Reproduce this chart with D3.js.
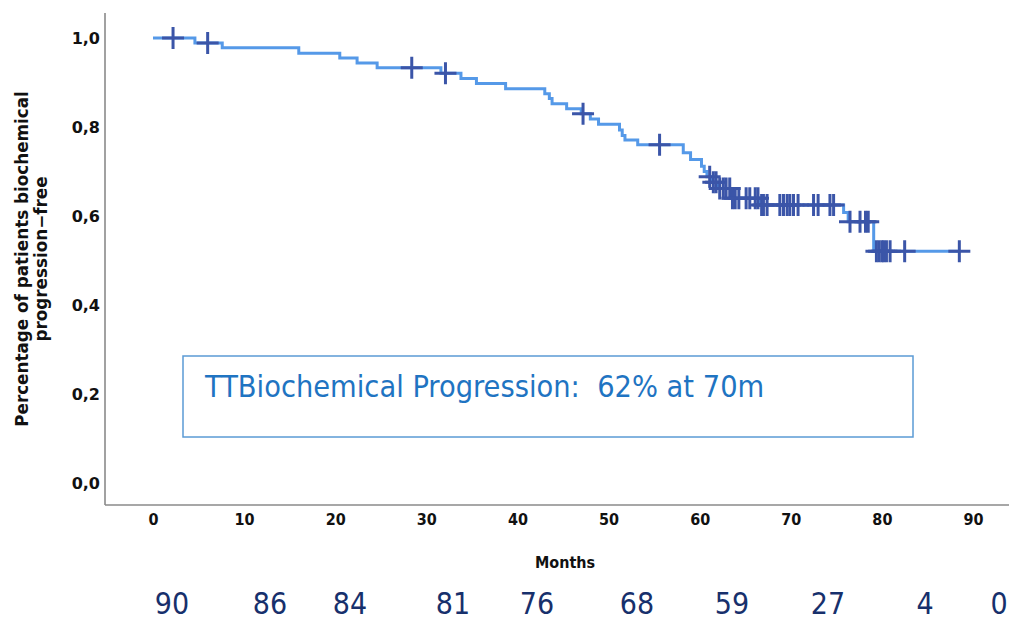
<!DOCTYPE html>
<html>
<head>
<meta charset="utf-8">
<script src="https://cdn.jsdelivr.net/npm/d3@7"></script>
<style>
  html, body { margin: 0; padding: 0; background: #fff; }
  svg { display: block; }
</style>
</head>
<body>
<svg id="chart" width="1009" height="622"></svg>
<script>
// Kaplan–Meier: time to biochemical progression

// x-axis ticks (months) and y-axis ticks (proportion)
const monthTicks = [0, 10, 20, 30, 40, 50, 60, 70, 80, 90];
const survTicks = [0, 0.2, 0.4, 0.6, 0.8, 1.0];

// Event times (months) and the survival estimate just after each event
const eventTimes = [4.6, 7.6, 16.0, 20.5, 22.4, 24.6, 31.6, 33.8, 35.5, 38.7,
  43.0, 43.5, 43.8, 45.4, 47.0, 48.0, 48.9, 51.2, 51.5, 51.8,
  53.2, 58.2, 59.0, 60.2, 60.5, 60.8, 61.3, 62.0, 63.6, 66.6,
  75.8, 76.3, 79.1];
const eventSurv = [0.989, 0.978, 0.966, 0.955, 0.944, 0.933, 0.921, 0.909, 0.898, 0.886,
  0.875, 0.864, 0.852, 0.841, 0.830, 0.818, 0.806, 0.793, 0.781, 0.771,
  0.760, 0.742, 0.727, 0.712, 0.700, 0.688, 0.676, 0.662, 0.640, 0.625,
  0.608, 0.587, 0.521];

// Censored observations (months)
const censorTimes = [2.2, 6.0, 28.4, 32.1, 47.2, 55.6, 61.1, 61.5, 61.8, 62.2,
  62.6, 62.9, 63.3, 63.6, 63.9, 64.3, 65.1, 65.5, 66.1, 66.4,
  66.8, 67.0, 67.4, 68.8, 69.2, 69.6, 69.9, 70.3, 70.8, 72.5,
  73.0, 74.3, 74.7, 76.5, 77.6, 78.2, 78.5, 79.4, 79.7, 80.0,
  80.2, 80.5, 80.9, 82.5, 88.5];

// Numbers at risk shown under the axis
const atRisk = [90, 86, 84, 81, 76, 68, 59, 27, 4, 0];

const annotation = "TTBiochemical Progression:  62% at 70m";

// ---- layout ----
const riskLabelX = [172, 270, 350, 453, 537, 637, 732, 828, 925, 999];
const svg = d3.select("#chart");

const x = d3.scaleLinear().domain([0, 90]).range([153, 973]);
const y = d3.scaleLinear().domain([0, 1]).range([483, 38]);

// survival estimate at time t
function survAt(t) {
  let s = 1;
  for (let i = 0; i < eventTimes.length; i++) {
    if (eventTimes[i] <= t) s = eventSurv[i];
  }
  return s;
}

// frame: left and bottom axis lines
svg.append("line").attr("x1", 105).attr("x2", 105).attr("y1", 13).attr("y2", 505)
  .attr("stroke", "#8a8a8a").attr("stroke-width", 1.6);
svg.append("line").attr("x1", 105).attr("x2", 1009).attr("y1", 505).attr("y2", 505)
  .attr("stroke", "#8a8a8a").attr("stroke-width", 1.6);

// y axis labels
const yAxis = d3.axisLeft(y).tickValues(survTicks).tickSize(0).tickPadding(0)
  .tickFormat(d => d3.format(".1f")(d).replace(".", ","));
const gy = svg.append("g").attr("transform", "translate(100,0)").call(yAxis);
gy.select(".domain").remove();
gy.selectAll("text")
  .attr("font-family", "DejaVu Sans, sans-serif")
  .attr("font-weight", "bold").attr("font-size", 16).attr("fill", "#111")
  .attr("dy", "0.35em");

// x axis labels
const xAxis = d3.axisBottom(x).tickValues(monthTicks).tickSize(0).tickPadding(0);
const gx = svg.append("g").attr("transform", "translate(0,514)").call(xAxis);
gx.select(".domain").remove();
gx.selectAll("text")
  .attr("font-family", "'DejaVu Sans Condensed', sans-serif")
  .attr("font-weight", "bold").attr("font-size", 16).attr("fill", "#111")
  .attr("dy", "0.71em");

// axis titles
svg.append("text").attr("x", 565).attr("y", 568).attr("text-anchor", "middle")
  .attr("font-family", "'DejaVu Sans Condensed', sans-serif")
  .attr("font-weight", "bold").attr("font-size", 16).attr("fill", "#111")
  .text("Months");

const yTitle = svg.append("text")
  .attr("transform", "translate(0,259) rotate(-90)")
  .attr("text-anchor", "middle")
  .attr("font-family", "DejaVu Sans, sans-serif")
  .attr("font-weight", "bold").attr("font-size", 16.8).attr("fill", "#111");
yTitle.append("tspan").attr("x", 0).attr("y", 28).text("Percentage of patients biochemical");
yTitle.append("tspan").attr("x", 0).attr("y", 47).text("progression\u2212free");

// annotation box
svg.append("rect").attr("x", 183).attr("y", 356).attr("width", 730).attr("height", 81)
  .attr("fill", "none").attr("stroke", "#5b9bd5").attr("stroke-width", 1.5);
svg.append("text").attr("x", 205).attr("y", 397)
  .attr("font-family", "'DejaVu Sans Condensed', 'DejaVu Sans', sans-serif")
  .attr("font-size", 30.4).attr("fill", "#1f74c2")
  .attr("xml:space", "preserve")
  .style("white-space", "pre")
  .text(annotation);

// survival curve
const lastT = censorTimes[censorTimes.length - 1];
const pts = [[0, 1]].concat(eventTimes.map((t, i) => [t, eventSurv[i]]), [[lastT, survAt(lastT)]]);
const line = d3.line().x(d => x(d[0])).y(d => y(d[1])).curve(d3.curveStepAfter);
svg.append("path").attr("d", line(pts))
  .attr("fill", "none").attr("stroke", "#5599e8").attr("stroke-width", 3);

// censor marks
const arm = 11;
svg.append("g").selectAll("path").data(censorTimes).join("path")
  .attr("d", t => {
    const cx = x(t), cy = y(survAt(t));
    return `M${cx - arm},${cy}H${cx + arm}M${cx},${cy - arm}V${cy + arm}`;
  })
  .attr("fill", "none").attr("stroke", "#3b55a8").attr("stroke-width", 3);

// numbers at risk
svg.append("g").selectAll("text").data(atRisk).join("text")
  .attr("x", (d, i) => riskLabelX[i]).attr("y", 614)
  .attr("text-anchor", "middle")
  .attr("font-family", "'DejaVu Sans Condensed', sans-serif")
  .attr("font-size", 30).attr("fill", "#17306c")
  .text(d => d);
</script>
</body>
</html>
